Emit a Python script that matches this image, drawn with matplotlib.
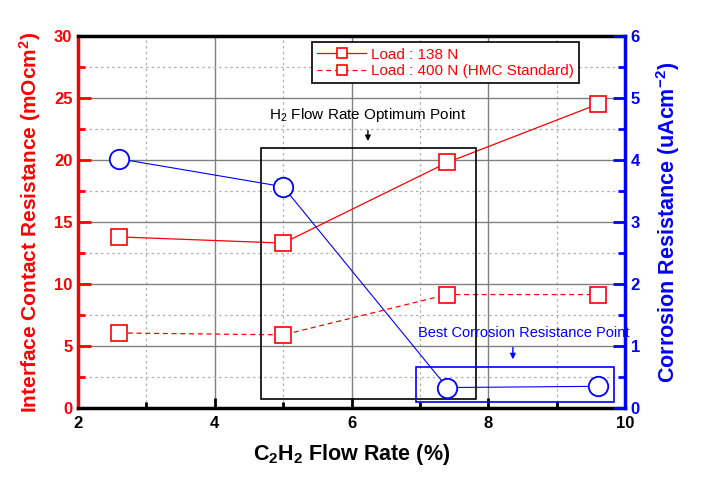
import matplotlib

matplotlib.use("Agg")
import matplotlib.pyplot as plt  # noqa: E402
from matplotlib.patches import Rectangle  # noqa: E402
from matplotlib.ticker import MultipleLocator  # noqa: E402

plt.rcParams["font.family"] = ["Liberation Sans", "DejaVu Sans"]
plt.rcParams["mathtext.default"] = "regular"

# --------------------------------------------------------------------------- #
# Données
# --------------------------------------------------------------------------- #
flow_rate = [2.6, 5.0, 7.4, 9.6]
icr_138n = [13.8, 13.3, 19.8, 24.5]
icr_400n = [6.05, 5.9, 9.15, 9.15]
corrosion = [4.02, 3.57, 0.33, 0.35]

RED = "#ff0000"
BLUE = "#0000ff"

fig = plt.figure(figsize=(7.06, 5.01), dpi=100)
ax = fig.add_axes([0.1105, 0.1856, 0.7748, 0.7425])
ax2 = ax.twinx()

# grille : majeure pleine, mineure pointillée
ax.set_xlim(2, 10)
ax.set_ylim(0, 30)
ax2.set_ylim(0, 6)
ax.xaxis.set_major_locator(MultipleLocator(2))
ax.xaxis.set_minor_locator(MultipleLocator(1))
ax.yaxis.set_major_locator(MultipleLocator(5))
ax.yaxis.set_minor_locator(MultipleLocator(2.5))
ax2.yaxis.set_major_locator(MultipleLocator(1))
ax2.yaxis.set_minor_locator(MultipleLocator(0.5))
ax.grid(which="major", color="#808080", lw=1.0, ls="-")
ax.grid(which="minor", color="#b0b0b0", lw=0.9, ls=(0, (2, 2.5)))
ax.set_axisbelow(True)

# séries ICR
ax.plot(flow_rate, icr_138n, color=RED, lw=0.9, marker="s", ms=12,
        mfc="white", mec=RED, mew=1.2, label="Load : 138 N", zorder=3)
ax.plot(flow_rate, icr_400n, color=RED, lw=0.9, ls=(0, (4, 3)), marker="s", ms=12,
        mfc="white", mec=RED, mew=1.2, label="Load : 400 N (HMC Standard)", zorder=3)

# série corrosion
ax2.plot(flow_rate, corrosion, color=BLUE, lw=0.8, marker="o", ms=14,
         mfc="white", mec=BLUE, mew=1.3, zorder=3)

# zones annotées
ax.add_patch(Rectangle((4.67, 0.73), 3.15, 20.2, fill=False, ec="black", lw=1.2, zorder=4))
ax2.add_patch(Rectangle((6.95, 0.1), 2.89, 0.56, fill=False, ec=BLUE, lw=1.2, zorder=4))

ax.text(6.23, 23.6, "H$_2$ Flow Rate Optimum Point", ha="center", va="center",
        fontsize=11, color="black")
ax.annotate("", xy=(6.24, 21.3), xytext=(6.24, 22.6),
            arrowprops=dict(arrowstyle="-|>", color="black", lw=1, mutation_scale=8))
ax2.text(8.52, 1.21, "Best Corrosion Resistance Point", ha="center", va="center",
         fontsize=10.5, color=BLUE)
ax2.annotate("", xy=(8.36, 0.74), xytext=(8.36, 1.02),
             arrowprops=dict(arrowstyle="-|>", color=BLUE, lw=1, mutation_scale=8))

leg = ax.legend(loc="upper left", bbox_to_anchor=(0.428, 0.983), borderaxespad=0,
                fancybox=False, framealpha=1, edgecolor="black", handlelength=3.2,
                handletextpad=0.3, borderpad=0.35, labelspacing=0.15,
                prop={"size": 11})
leg.get_frame().set_linewidth(1.2)
for t in leg.get_texts():
    t.set_color(RED)
for h in leg.legend_handles:
    h.set_markersize(7)

# axes et ticks
for s in ("top", "bottom"):
    ax.spines[s].set_linewidth(2.5)
ax.spines["left"].set_color(RED)
ax.spines["left"].set_linewidth(2.5)
ax2.spines["right"].set_color(BLUE)
ax2.spines["right"].set_linewidth(2.5)
ax2.spines["left"].set_visible(False)
ax2.spines["top"].set_visible(False)
ax2.spines["bottom"].set_visible(False)

ax.tick_params(axis="x", which="both", direction="in", top=False, width=2, colors="black",
               labelsize=12, pad=6)
ax.tick_params(axis="x", which="major", length=7)
ax.tick_params(axis="x", which="minor", length=4)
ax.tick_params(axis="y", which="both", direction="in", right=False, width=2,
               colors=RED, labelsize=12, pad=4)
ax.tick_params(axis="y", which="major", length=9)
ax.tick_params(axis="y", which="minor", length=5)
ax2.tick_params(axis="y", which="both", direction="in", width=2, colors=BLUE,
                labelsize=12, pad=4)
ax2.tick_params(axis="y", which="major", length=9)
ax2.tick_params(axis="y", which="minor", length=5)
for lab in ax.get_xticklabels() + ax.get_yticklabels() + ax2.get_yticklabels():
    lab.set_fontweight("bold")

ax.set_xlabel("C$_2$H$_2$ Flow Rate (%)", fontsize=15.5, fontweight="bold", labelpad=8)
ax.set_ylabel("Interface Contact Resistance (mOcm$^2$)", fontsize=15,
              fontweight="bold", color=RED, labelpad=8)
ax2.set_ylabel("Corrosion Resistance (uAcm$^{-2}$)", fontsize=15.5,
               fontweight="bold", color=BLUE, labelpad=10)

fig.savefig("out.png", dpi=100)
